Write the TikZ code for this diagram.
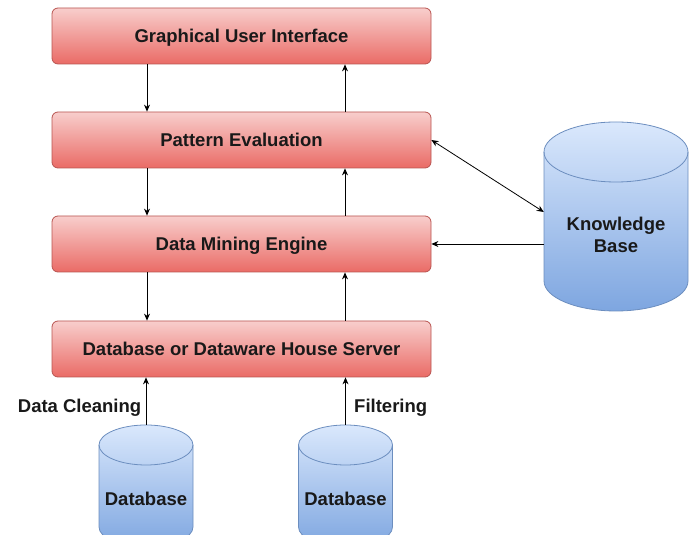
\documentclass[tikz,border=0pt]{standalone}
\usepackage{fontspec}
\setmainfont{Liberation Sans}
\usetikzlibrary{arrows.meta}
\definecolor{redTop}{HTML}{F8CECC}
\definecolor{redBot}{HTML}{EA6B66}
\definecolor{redLine}{HTML}{B85450}
\definecolor{blueTop}{HTML}{DAE8FC}
\definecolor{blueBot}{HTML}{7EA6E0}
\definecolor{blueLine}{HTML}{6C8EBF}
\begin{document}
\begin{tikzpicture}[x=1pt,y=1pt,
  every node/.style={font=\fontsize{18.5}{22}\selectfont\bfseries, text=black!90},
  layerbox/.style={rectangle, rounded corners=6pt, draw=redLine, line width=0.8pt,
    top color=redTop, bottom color=redBot, minimum width=379pt, minimum height=56pt,
    inner sep=0pt, text height=16pt, text depth=3pt},
  holder/.style={rectangle, inner sep=0pt},
  cylfill/.style={top color=blueTop, bottom color=blueBot},
  cylline/.style={draw=blueLine, line width=0.8pt},
  conn/.style={line width=0.8pt, -{Stealth[length=7pt,width=6pt]}},
  biconn/.style={line width=0.8pt, {Stealth[length=7pt,width=6pt]}-{Stealth[length=7pt,width=6pt]}}]
\useasboundingbox (0,0) rectangle (691,535);
\clip (0,0) rectangle (691,535);

% layered boxes
\node[layerbox] (gui) at (241.5,499) {Graphical User Interface};
\node[layerbox] (pe)  at (241.5,395) {Pattern Evaluation};
\node[layerbox] (dme) at (241.5,291) {Data Mining Engine};
\node[layerbox] (srv) at (241.5,186) {Database or Dataware House Server};

% knowledge base cylinder
\shade[cylfill] (544,383) -- (544,254) arc[start angle=180,end angle=360,x radius=72,y radius=30]
  -- (688,383) arc[start angle=0,end angle=180,x radius=72,y radius=30] -- cycle;
\draw[cylline] (544,383) -- (544,254) arc[start angle=180,end angle=360,x radius=72,y radius=30]
  -- (688,383) arc[start angle=0,end angle=180,x radius=72,y radius=30] -- cycle;
\draw[cylline] (544,383) arc[start angle=180,end angle=360,x radius=72,y radius=30];
\node[holder, minimum width=144pt, minimum height=189pt] (kb) at (616,318.5) {};
\node[align=center] (kbtext) at (616,300) {Knowledge\\[0pt]Base};

% source databases
\foreach \cx/\nm in {146/dbl, 345.5/dbr}{
  \shade[cylfill] (\cx-47,90) -- (\cx-47,8) arc[start angle=180,end angle=360,x radius=47,y radius=20]
    -- (\cx+47,90) arc[start angle=0,end angle=180,x radius=47,y radius=20] -- cycle;
  \draw[cylline] (\cx-47,90) -- (\cx-47,8) arc[start angle=180,end angle=360,x radius=47,y radius=20]
    -- (\cx+47,90) arc[start angle=0,end angle=180,x radius=47,y radius=20] -- cycle;
  \draw[cylline] (\cx-47,90) arc[start angle=180,end angle=360,x radius=47,y radius=20];
  \node[holder, minimum width=94pt, minimum height=1pt, anchor=north] (\nm) at (\cx,110) {};
  \node at (\cx,36) {Database};
}

% downward flow
\draw[conn] ([xshift=-94.5pt]gui.south) -- ([xshift=-94.5pt]pe.north);
\draw[conn] ([xshift=-94.5pt]pe.south) -- ([xshift=-94.5pt]dme.north);
\draw[conn] ([xshift=-94.5pt]dme.south) -- ([xshift=-94.5pt]srv.north);
% upward flow
\draw[conn] ([xshift=103.5pt]pe.north) -- ([xshift=103.5pt]gui.south);
\draw[conn] ([xshift=103.5pt]dme.north) -- ([xshift=103.5pt]pe.south);
\draw[conn] ([xshift=103.5pt]srv.north) -- ([xshift=103.5pt]dme.south);

% knowledge base links
\draw[biconn] (pe.east) -- ([yshift=4.5pt]kb.west);
\draw[conn] (kb.west |- dme.east) -- (dme.east);

% sources into the server
\draw[conn] (dbl.north) -- (dbl.north |- srv.south) node[pos=0.36, left=1pt] {Data Cleaning};
\draw[conn] (dbr.north) -- (dbr.north |- srv.south) node[pos=0.36, right=5pt] {Filtering};
\end{tikzpicture}
\end{document}
